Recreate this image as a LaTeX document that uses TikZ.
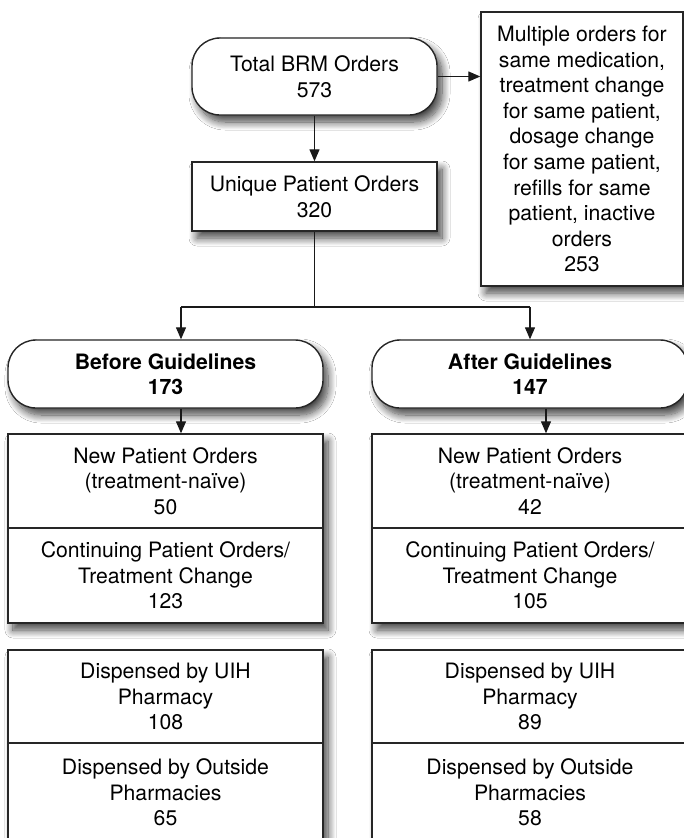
\documentclass[tikz,border=0pt]{standalone}
\usepackage{fontspec}
\setmainfont{TeX Gyre Heros}
\usetikzlibrary{arrows.meta,shadows.blur}
\begin{document}
\begin{tikzpicture}[x=1pt,y=-1pt,
  every node/.style={font=\fontsize{21.2}{25.6}\selectfont, align=center, inner sep=0pt},
  shad/.style={blur shadow={shadow xshift=5pt, shadow yshift=-7pt, shadow blur radius=8pt, shadow blur steps=12, shadow opacity=75}},
  plainbox/.style={draw=black!85, line width=1.4pt, fill=white, rectangle},
  box/.style={plainbox, shad},
  rbox/.style={box, rounded corners=28pt},
  conn/.style={draw=black!90, line width=1.3pt},
  arr/.style={conn, -{Triangle[length=12pt,width=10pt]}},
]
\useasboundingbox (0,0) rectangle (684,838);
\clip (0,0) rectangle (684,838);
\fill[white] (0,0) rectangle (684,838);

\node[rbox, minimum width=245pt, minimum height=77pt] (total) at (314.5,76.5) {Total BRM Orders\\573};
\node[box, minimum width=202pt, minimum height=274pt] (mult) at (582,149) {Multiple orders for\\same medication,\\treatment change\\for same patient,\\dosage change\\for same patient,\\refills for same\\patient, inactive\\orders\\253};
\node[box, minimum width=245pt, minimum height=69pt] (unique) at (314.5,196.5) {Unique Patient Orders\\320};

\node[rbox, minimum width=315pt, minimum height=68pt, font=\fontsize{21.2}{25.6}\selectfont\bfseries] (before) at (165.5,374) {Before Guidelines\\173};
\node[rbox, minimum width=316pt, minimum height=68pt, font=\fontsize{21.2}{25.6}\selectfont\bfseries] (after) at (530,374) {After Guidelines\\147};

% group shadows
\path[shad, fill=white] (8,434) rectangle (323,623);
\path[shad, fill=white] (372,434) rectangle (688,623);
\path[shad, fill=white] (8,650) rectangle (323,842);
\path[shad, fill=white] (372,650) rectangle (688,842);

\node[plainbox, minimum width=315pt, minimum height=94pt] (newL) at (165.5,481) {New Patient Orders\\(treatment-naïve)\\50};
\node[plainbox, minimum width=315pt, minimum height=95pt] (contL) at (165.5,575.5) {Continuing Patient Orders/\\Treatment Change\\123};
\node[plainbox, minimum width=316pt, minimum height=94pt] (newR) at (530,481) {New Patient Orders\\(treatment-naïve)\\42};
\node[plainbox, minimum width=316pt, minimum height=95pt] (contR) at (530,575.5) {Continuing Patient Orders/\\Treatment Change\\105};

\node[plainbox, minimum width=315pt, minimum height=93pt] (dispL) at (165.5,696.5) {Dispensed by UIH\\Pharmacy\\108};
\node[plainbox, minimum width=315pt, minimum height=99pt] (outL) at (165.5,792.5) {Dispensed by Outside\\Pharmacies\\65};
\node[plainbox, minimum width=316pt, minimum height=93pt] (dispR) at (530,696.5) {Dispensed by UIH\\Pharmacy\\89};
\node[plainbox, minimum width=316pt, minimum height=99pt] (outR) at (530,792.5) {Dispensed by Outside\\Pharmacies\\58};

\coordinate (jl) at (181,307);
\coordinate (jr) at (530,307);
\coordinate (ar) at (546,0);

\draw[arr] (total.east) -- (total.east -| mult.west);
\draw[arr] (total.south) -- (unique.north);
\draw[conn] (unique.south) -- (unique.south |- jl);
\draw[conn] (jl) -- (jr);
\draw[arr] (jl) -- (jl |- before.north);
\draw[arr] (jr) -- (jr |- after.north);
\draw[arr] (before.south -| jl) -- (newL.north -| jl);
\draw[arr] (after.south -| ar) -- (newR.north -| ar);
\end{tikzpicture}
\end{document}
